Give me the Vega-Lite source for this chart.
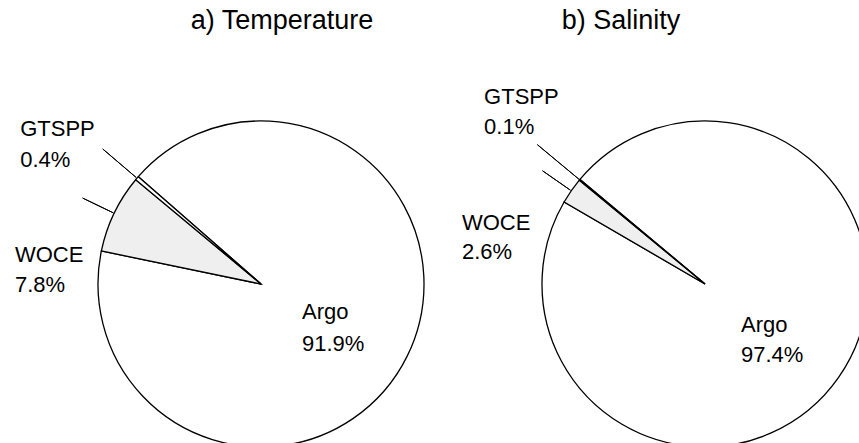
{
  "$schema": "https://vega.github.io/schema/vega-lite/v6.json",
  "padding": {"left": 0, "top": 6, "right": 0, "bottom": 0},
  "bounds": "flush",
  "spacing": 29,
  "config": {
    "view": {"stroke": null},
    "font": "Liberation Sans",
    "text": {"font": "Liberation Sans", "fontSize": 22, "align": "left", "baseline": "alphabetic", "color": "#000000"},
    "title": {"font": "Liberation Sans", "fontSize": 27, "fontWeight": "normal", "color": "#000000", "anchor": "middle", "baseline": "alphabetic", "frame": "group"}
  },
  "data": {
    "values": [
      {"variable": "Temperature", "source": "Argo", "share": 0.919},
      {"variable": "Temperature", "source": "WOCE", "share": 0.078},
      {"variable": "Temperature", "source": "GTSPP", "share": 0.004},
      {"variable": "Salinity", "source": "Argo", "share": 0.974},
      {"variable": "Salinity", "source": "WOCE", "share": 0.026},
      {"variable": "Salinity", "source": "GTSPP", "share": 0.001}
    ]
  },
  "hconcat": [
    {
      "width": 522,
      "height": 326,
      "title": {"text": "a) Temperature", "dx": 21, "offset": 83},
      "transform": [
        {"filter": "datum.variable === 'Temperature'"},
        {"stack": "share", "groupby": [], "sort": [{"field": "source", "order": "descending"}], "as": ["s0", "s1"]}
      ],
      "encoding": {
        "theta": {"field": "s0", "type": "quantitative", "scale": {"domain": [0, 1.001], "range": [-1.3666, 4.9166]}}
      },
      "layer": [
        {
          "mark": {"type": "arc", "radius": 163, "stroke": "#000000", "strokeWidth": 1.3},
          "encoding": {
            "theta2": {"field": "s1"},
            "fill": {"field": "source", "type": "nominal", "legend": null,
              "scale": {"domain": ["Argo", "WOCE", "GTSPP"], "range": ["#ffffff", "#efefef", "#ffffff"]}}
          }
        },
        {
          "transform": [{"filter": "datum.source === 'GTSPP'"}],
          "mark": {"type": "arc", "radius": 208, "radius2": 164, "padAngle": 1.5, "filled": false, "stroke": "#000000", "strokeWidth": 1},
          "encoding": {"theta2": {"field": "s1"}}
        },
        {
          "transform": [{"filter": "datum.source === 'WOCE'"}],
          "mark": {"type": "arc", "radius": 198, "radius2": 164, "padAngle": 1.5, "filled": false, "stroke": "#000000", "strokeWidth": 1},
          "encoding": {"theta2": {"field": "s1"}}
        },
        {
          "transform": [{"filter": "datum.source === 'Argo'"}],
          "mark": {"type": "text", "radius": 0, "dx": 41, "dy": 35},
          "encoding": {"text": {"field": "source"}}
        },
        {
          "transform": [{"filter": "datum.source === 'Argo'"}],
          "mark": {"type": "text", "radius": 0, "dx": 41, "dy": 67},
          "encoding": {"text": {"field": "share", "type": "quantitative", "format": ".1%"}}
        },
        {
          "transform": [{"filter": "datum.source === 'WOCE'"}],
          "mark": {"type": "text", "radius": 240, "dx": -11, "dy": 27},
          "encoding": {"text": {"field": "source"}}
        },
        {
          "transform": [{"filter": "datum.source === 'WOCE'"}],
          "mark": {"type": "text", "radius": 240, "dx": -11, "dy": 57},
          "encoding": {"text": {"field": "share", "type": "quantitative", "format": ".1%"}}
        },
        {
          "transform": [{"filter": "datum.source === 'GTSPP'"}],
          "mark": {"type": "text", "radius": 230, "dx": -64, "dy": -1},
          "encoding": {"text": {"field": "source"}}
        },
        {
          "transform": [{"filter": "datum.source === 'GTSPP'"}],
          "mark": {"type": "text", "radius": 230, "dx": -64, "dy": 30},
          "encoding": {"text": {"field": "share", "type": "quantitative", "format": ".1%"}}
        }
      ]
    },
    {
      "width": 308,
      "height": 326,
      "title": {"text": "b) Salinity", "dx": -84, "offset": 51},
      "transform": [
        {"filter": "datum.variable === 'Salinity'"},
        {"stack": "share", "groupby": [], "sort": [{"field": "source", "order": "descending"}], "as": ["s0", "s1"]}
      ],
      "encoding": {
        "theta": {"field": "s0", "type": "quantitative", "scale": {"domain": [0, 1.001], "range": [-1.0437, 5.2395]}}
      },
      "layer": [
        {
          "mark": {"type": "arc", "radius": 163, "stroke": "#000000", "strokeWidth": 1.3},
          "encoding": {
            "theta2": {"field": "s1"},
            "fill": {"field": "source", "type": "nominal", "legend": null,
              "scale": {"domain": ["Argo", "WOCE", "GTSPP"], "range": ["#ffffff", "#efefef", "#ffffff"]}}
          }
        },
        {
          "transform": [{"filter": "datum.source === 'GTSPP'"}],
          "mark": {"type": "arc", "radius": 218, "radius2": 164, "padAngle": 1.5, "filled": false, "stroke": "#000000", "strokeWidth": 1},
          "encoding": {"theta2": {"field": "s1"}}
        },
        {
          "transform": [{"filter": "datum.source === 'WOCE'"}],
          "mark": {"type": "arc", "radius": 198, "radius2": 164, "padAngle": 1.5, "filled": false, "stroke": "#000000", "strokeWidth": 1},
          "encoding": {"theta2": {"field": "s1"}}
        },
        {
          "transform": [{"filter": "datum.source === 'Argo'"}],
          "mark": {"type": "text", "radius": 0, "dx": 36, "dy": 48},
          "encoding": {"text": {"field": "source"}}
        },
        {
          "transform": [{"filter": "datum.source === 'Argo'"}],
          "mark": {"type": "text", "radius": 0, "dx": 36, "dy": 78},
          "encoding": {"text": {"field": "share", "type": "quantitative", "format": ".1%"}}
        },
        {
          "transform": [{"filter": "datum.source === 'WOCE'"}],
          "mark": {"type": "text", "radius": 250, "dx": -27, "dy": 72},
          "encoding": {"text": {"field": "source"}}
        },
        {
          "transform": [{"filter": "datum.source === 'WOCE'"}],
          "mark": {"type": "text", "radius": 250, "dx": -27, "dy": 101},
          "encoding": {"text": {"field": "share", "type": "quantitative", "format": ".1%"}}
        },
        {
          "transform": [{"filter": "datum.source === 'GTSPP'"}],
          "mark": {"type": "text", "radius": 280, "dx": -5, "dy": -2},
          "encoding": {"text": {"field": "source"}}
        },
        {
          "transform": [{"filter": "datum.source === 'GTSPP'"}],
          "mark": {"type": "text", "radius": 280, "dx": -5, "dy": 28},
          "encoding": {"text": {"field": "share", "type": "quantitative", "format": ".1%"}}
        }
      ]
    }
  ]
}
